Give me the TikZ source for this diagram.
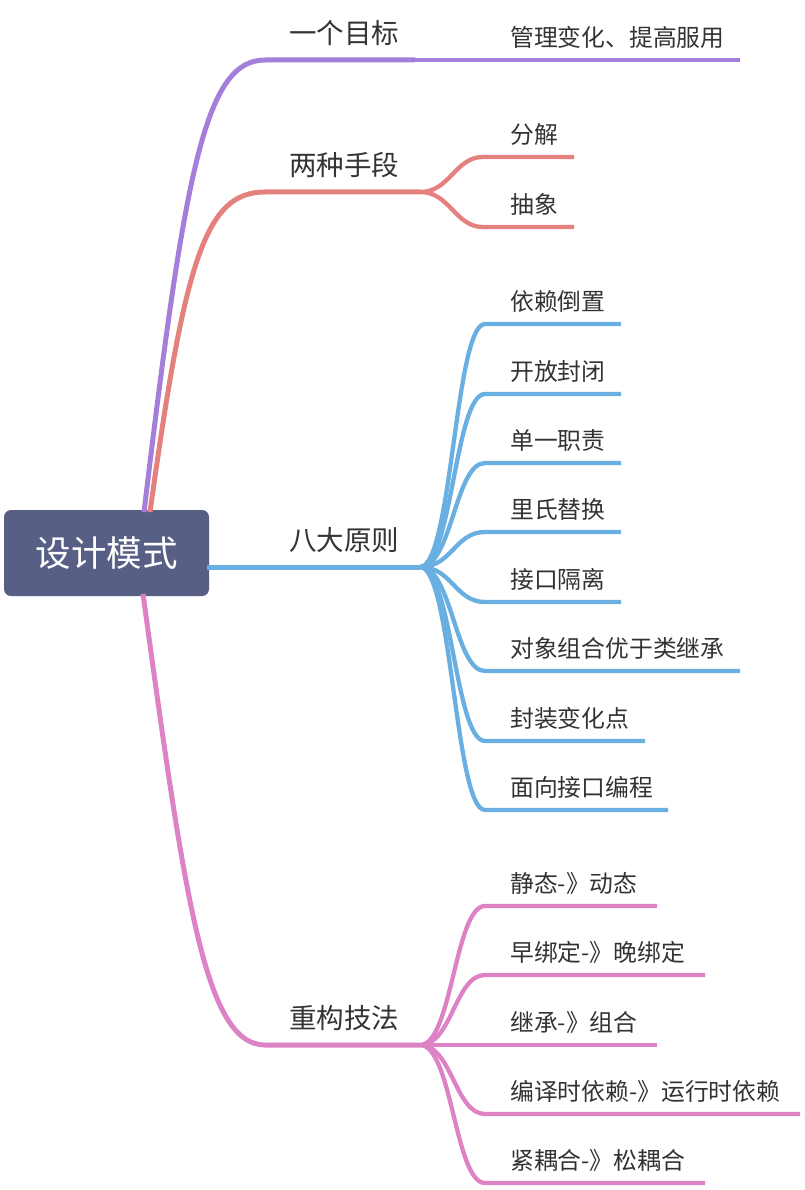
\documentclass[tikz,border=0pt]{standalone}
\usepackage{fontspec}
\setmainfont{Noto Sans CJK SC}
\definecolor{rootc}{HTML}{585F85}
\definecolor{purp}{HTML}{A47FDA}
\definecolor{redc}{HTML}{E4817F}
\definecolor{bluec}{HTML}{69AFE1}
\definecolor{pinkc}{HTML}{DE82C6}
\definecolor{txt}{HTML}{333333}
\tikzset{
  rootbox/.style={fill=rootc, rounded corners=7pt, text=white, font=\fontsize{35.5}{35.5}\selectfont, minimum width=205pt, minimum height=86pt, inner sep=0pt},
  mainlbl/.style={anchor=west, inner sep=0pt, text=txt, font=\fontsize{27.5}{27.5}\selectfont},
  sublbl/.style={anchor=west, inner sep=0pt, text=txt, font=\fontsize{23.8}{23.8}\selectfont},
  mainline/.style={line width=5pt},
  subline/.style={line width=4.3pt},
}
\begin{document}
\begin{tikzpicture}[x=1pt,y=-1pt]
\useasboundingbox (0,0) rectangle (804,1190);
% root
\node[rootbox] (root) at (106.5,553) {设计模式};
\coordinate (rp) at (144,512);
\coordinate (rr) at (150,512);
\coordinate (rb) at (143,594);
\coordinate (rbl) at (207,567);

% main branch points
\coordinate (m1s) at (265,60);   \coordinate (m1e) at (415,60);
\coordinate (m2s) at (265,192);  \coordinate (m2e) at (420,192);
\coordinate (m3e) at (420,567);
\coordinate (m4s) at (265,1045); \coordinate (m4e) at (420,1045);

\node[mainlbl] (t1) at (289,33) {一个目标};
\node[mainlbl] (t2) at (289,165) {两种手段};
\node[mainlbl] (t3) at (289,540) {八大原则};
\node[mainlbl] (t4) at (289,1018) {重构技法};

% root connectors
\draw[mainline, purp] (rp) .. controls (185,170) and (205,60) .. (m1s) -- (m1e);
\draw[mainline, redc] (rr) .. controls (185,260) and (205,192) .. (m2s) -- (m2e);
\draw[mainline, bluec] (rbl) -- (m3e);
\draw[mainline, pinkc] (rb) .. controls (185,900) and (205,1045) .. (m4s) -- (m4e);

% branch 1
\coordinate (c1e) at (740,60);
\draw[subline, purp] (m1e) -- (c1e);
\node[sublbl] (s1) at (510,37) {管理变化、提高服用};

% branch 2
\foreach \n/\y/\ex/\t in {a/157/574/分解, b/227/574/抽象}{
  \coordinate (e2\n) at (\ex,\y);
  \coordinate (k2\n) at (483,\y);
  \draw[subline, redc] (m2e) .. controls (450,192) and (455,\y) .. (k2\n) -- (e2\n);
  \node[sublbl] (s2\n) at (510,\y-23) {\t};
}

% branch 3
\foreach \n/\y/\ex/\t in {a/324/621/依赖倒置, b/394/621/开放封闭, c/463/621/单一职责, d/532/621/里氏替换, e/602/621/接口隔离, f/671/740/对象组合优于类继承, g/741/645/封装变化点, h/810/668/面向接口编程}{
  \coordinate (e3\n) at (\ex,\y);
  \coordinate (k3\n) at (485,\y);
  \draw[subline, bluec] (m3e) .. controls (452,567) and (455,\y) .. (k3\n) -- (e3\n);
  \node[sublbl] (s3\n) at (510,\y-23) {\t};
}

% branch 4
\foreach \n/\y/\ex/\t in {a/906/657/静态-》动态, b/975/705/早绑定-》晚绑定, c/1045/657/继承-》组合, d/1114/800/编译时依赖-》运行时依赖, e/1183/705/紧耦合-》松耦合}{
  \coordinate (e4\n) at (\ex,\y);
  \coordinate (k4\n) at (485,\y);
  \draw[subline, pinkc] (m4e) .. controls (452,1045) and (455,\y) .. (k4\n) -- (e4\n);
  \node[sublbl] (s4\n) at (510,\y-23) {\t};
}
\end{tikzpicture}
\end{document}
